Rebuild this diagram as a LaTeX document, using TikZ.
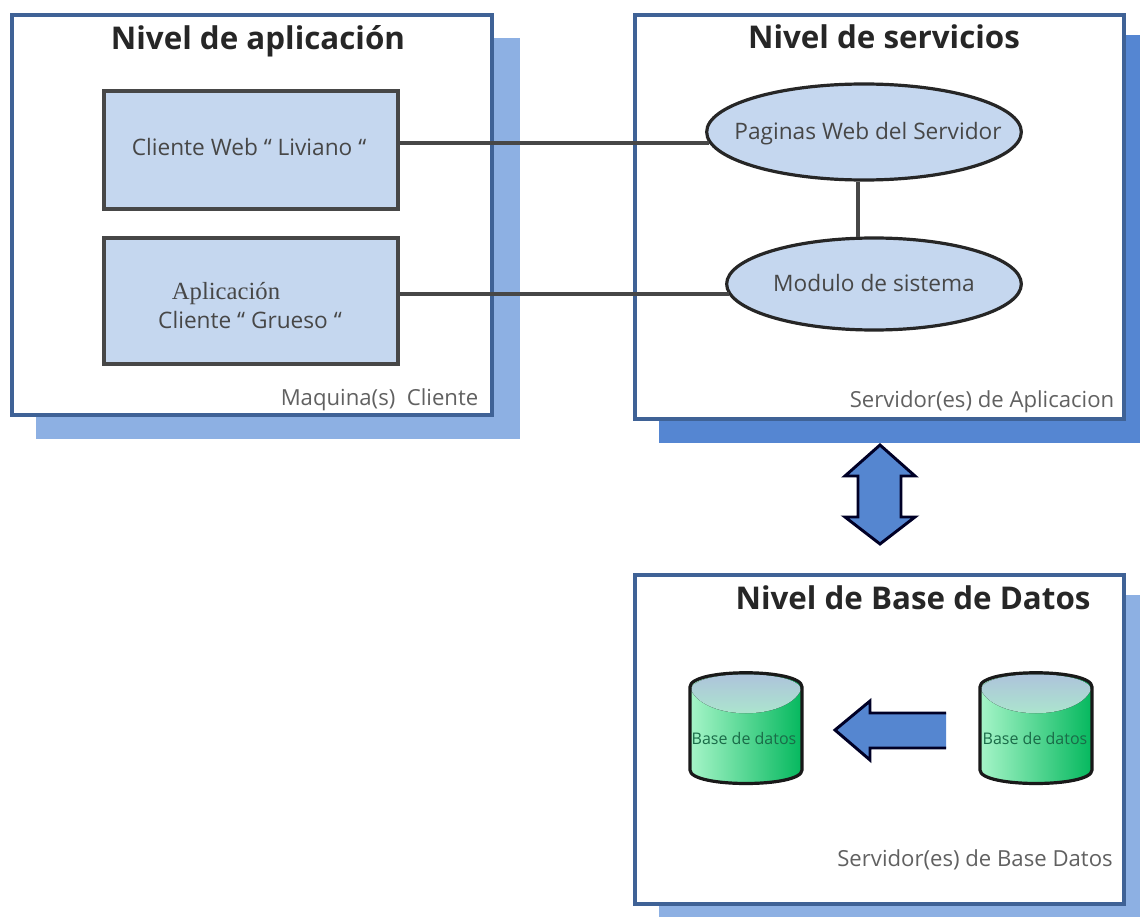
\documentclass[tikz,border=0pt]{standalone}
\usepackage{fontspec}
\setmainfont{Open Sans}
\newfontfamily\serifx{Liberation Serif}
\usetikzlibrary{shapes.geometric}
\definecolor{shlight}{HTML}{8DB0E3}
\definecolor{shdark}{HTML}{5586D2}
\definecolor{frame}{HTML}{3F6296}
\definecolor{boxfill}{HTML}{C5D7EF}
\definecolor{arrowfill}{HTML}{5586D0}
\definecolor{cylA}{HTML}{A6F5C8}
\definecolor{cylB}{HTML}{05B85E}
\definecolor{topA}{HTML}{AEBFDD}
\definecolor{topB}{HTML}{ABEBCB}
\definecolor{dbink}{HTML}{1A6B48}
\tikzset{
  x=0.75pt,y=-0.75pt,
  panel/.style={draw=frame,line width=2.8pt,fill=white},
  title/.style={font=\fontsize{23.5pt}{27pt}\selectfont\bfseries,text=black!85},
  tier/.style={draw=black!72,line width=3.2pt,fill=boxfill,inner sep=0pt},
  oval/.style={ellipse,draw=black!85,line width=2.4pt,fill=boxfill,inner sep=0pt},
  small/.style={font=\fontsize{16.6pt}{19pt}\selectfont,text=black!62},
  inner text/.style={font=\fontsize{17pt}{20pt}\selectfont,text=black!72},
  link/.style={draw=black!72,line width=3pt},
  blockarrow/.style={draw=black!85!blue,line width=2.2pt,fill=arrowfill,line join=miter},
  dbtext/.style={font=\fontsize{12pt}{14pt}\selectfont,text=dbink},
}
\newcommand{\dbcylinder}[1]{%
  \fill[left color=cylA,right color=cylB] (#1-56,687) .. controls (#1-56,668) and (#1+56,668) .. (#1+56,687) -- (#1+56,770) .. controls (#1+56,788) and (#1-56,788) .. (#1-56,770) -- cycle;
  \fill[top color=topA,bottom color=topB] (#1-55,690) .. controls (#1-55,669) and (#1+55,669) .. (#1+55,690) .. controls (#1+40,721) and (#1-40,721) .. (#1-55,690) -- cycle;
  \draw[black!90,line width=2.4pt] (#1-56,687) .. controls (#1-56,668) and (#1+56,668) .. (#1+56,687) -- (#1+56,770) .. controls (#1+56,788) and (#1-56,788) .. (#1-56,770) -- cycle;
}
\begin{document}
\begin{tikzpicture}
\useasboundingbox (0,0) rectangle (1140,917);
% shadows
\fill[shlight] (36,38) rectangle (520,439);
\fill[shdark] (659,35) rectangle (1140,443);
\fill[shlight] (659,595) rectangle (1140,917);
% panels
\path[panel] (12,15) rectangle (492,415);
\path[panel] (635,15) rectangle (1124,419);
\path[panel] (635,575) rectangle (1124,904);
\node[title] (t1) at (258,41) {Nivel de aplicación};
\node[title] (t2) at (884,37) {Nivel de servicios};
\node[title] (t3) at (913,598) {Nivel de Base de Datos};
% boxes
\node[tier,minimum width=220pt,minimum height=88pt] (web) at (251,150) {};
\node[inner text] (webt) at (249,147) {Cliente Web `` Liviano ``};
\node[tier,minimum width=220pt,minimum height=94pt] (app) at (251,301) {};
\node[font=\serifx\fontsize{18.5pt}{22pt}\selectfont,text=black!72] (appt) at (226,294) {Aplicación};
\node[inner text] (appc) at (250,320) {Cliente `` Grueso ``};
% ovals
\node[oval,minimum width=236pt,minimum height=72pt] (pag) at (864,132) {};
\node[inner text] (pagt) at (868,134) {Paginas Web del Servidor};
\node[oval,minimum width=221pt,minimum height=69pt] (mod) at (874,284) {};
\node[inner text] (modt) at (874,283) {Modulo de sistema};
\draw[link] (web.east |- pag.184.5) -- (pag.184.5);
\draw[link] (app.east |- mod.184.2) -- (mod.184.2);
\draw[link] (pag.south -| mod.109) -- (mod.109);
\node[small] (c1) at (379.5,400) {Maquina(s)\ \ Cliente};
\node[small] (c2) at (982,402) {Servidor(es) de Aplicacion};
\node[small] (c3) at (975,860) {Servidor(es) de Base Datos};
% double arrow
\draw[blockarrow] (880,445) -- (915,476) -- (901,476) -- (901,517) -- (915,517) -- (880,544) -- (845,517) -- (858,517) -- (858,476) -- (845,476) -- cycle;
% cylinders
\dbcylinder{746}
\dbcylinder{1036}
\node[dbtext] (db1) at (744,738) {Base de datos};
\node[dbtext] (db2) at (1035,738) {Base de datos};
% block arrow
\fill[arrowfill] (946,713) -- (870,713) -- (870,701) -- (835,730) -- (870,760) -- (870,748) -- (946,748) -- cycle;
\draw[blockarrow,fill=none] (946,713) -- (870,713) -- (870,701) -- (835,730) -- (870,760) -- (870,748) -- (946,748);
\end{tikzpicture}
\end{document}
